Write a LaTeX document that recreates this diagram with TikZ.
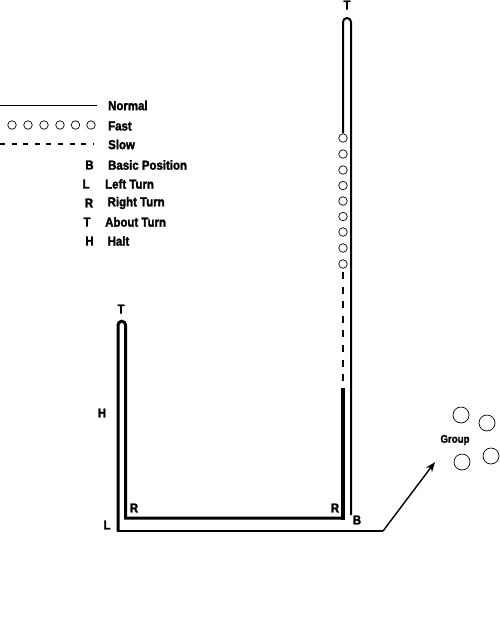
\documentclass[tikz,border=0pt]{standalone}
\usepackage{fontspec}
\setmainfont{Liberation Sans}[BoldFeatures={FakeBold=1.8,FakeStretch=0.88}]
\usetikzlibrary{arrows.meta}
\begin{document}
\begin{tikzpicture}[x=1pt,y=-1pt,
  lbl/.style={font=\bfseries\fontsize{13}{14}\selectfont, inner sep=0pt},
  lblw/.style={lbl, anchor=west},
  dot/.style={circle, draw, line width=0.7pt, minimum size=8.5pt, inner sep=0pt},
  bigdot/.style={circle, draw, line width=0.7pt, minimum size=16pt, inner sep=0pt},
  thick3/.style={line width=3pt},
  thin2/.style={line width=2pt}]
\useasboundingbox (0,0) rectangle (500,633);
% legend
\coordinate (n0) at (0,105.5);
\node[lblw] (normal) at (108,105.5) {Normal};
\draw[line width=1.6pt] (n0) -- (97,105.5);
\foreach \i/\x in {1/12,2/28,3/44,4/60,5/75.5,6/91}
  \node[dot] (f\i) at (\x,125) {};
\node[lblw] (fast) at (108,126) {Fast};
\draw[line width=1.6pt, dash pattern=on 5pt off 6.6pt] (0,144) -- (94,144);
\node[lblw] (slow) at (108,144.5) {Slow};
\node[lbl] (kB) at (89.5,165) {B};
\node[lblw] (tB) at (108,165) {Basic Position};
\node[lbl] (kL) at (86,184) {L};
\node[lblw] (tL) at (105,184) {Left Turn};
\node[lbl] (kR) at (89,203) {R};
\node[lblw] (tR) at (107.5,203) {Right Turn};
\node[lbl] (kT) at (87,222) {T};
\node[lblw] (tT) at (105,222) {About Turn};
\node[lbl] (kH) at (89.5,241) {H};
\node[lblw] (tH) at (107.5,241) {Halt};
% left hairpin
\draw[thick3, line join=miter] (343,518) -- (125.5,518) -- (125.5,325) arc[start angle=0, end angle=-180, radius=3.75] -- (118,531);
\draw[thin2] (116.5,531) -- (383,531);
\coordinate (aEnd) at (435,462);
\draw[line width=1.4pt, -{Stealth[length=10pt,width=7.5pt]}] (383,531) -- (aEnd);
% right hairpin
\draw[thin2] (351,515) -- (351,22) arc[start angle=0, end angle=-180, radius=4] -- (343,133);
\foreach \i/\y in {1/138,2/154,3/170,4/185.5,5/201,6/216.5,7/232,8/248,9/264}
  \node[dot] (s\i) at (343,\y) {};
\draw[line width=2.6pt, dash pattern=on 7pt off 7.6pt] (343,272) -- (343,384);
\draw[line width=3.8pt] (343,388) -- (343,519.5);
% labels
\node[lbl] (T1) at (121,309) {T};
\node[lbl] (T2) at (347,5) {T};
\node[lbl] (H) at (102,413) {H};
\node[lbl] (L) at (107,525) {L};
\node[lbl] (R1) at (134,508) {R};
\node[lbl] (R2) at (335,508) {R};
\node[lbl] (B) at (357,520) {B};
% group
\node[lbl, font=\bfseries\fontsize{11}{12}\selectfont] (group) at (455,440) {Group};
\node[bigdot] (g1) at (461,415) {};
\node[bigdot] (g2) at (487,423) {};
\node[bigdot] (g3) at (462,462) {};
\node[bigdot] (g4) at (491,456) {};
\end{tikzpicture}
\end{document}
